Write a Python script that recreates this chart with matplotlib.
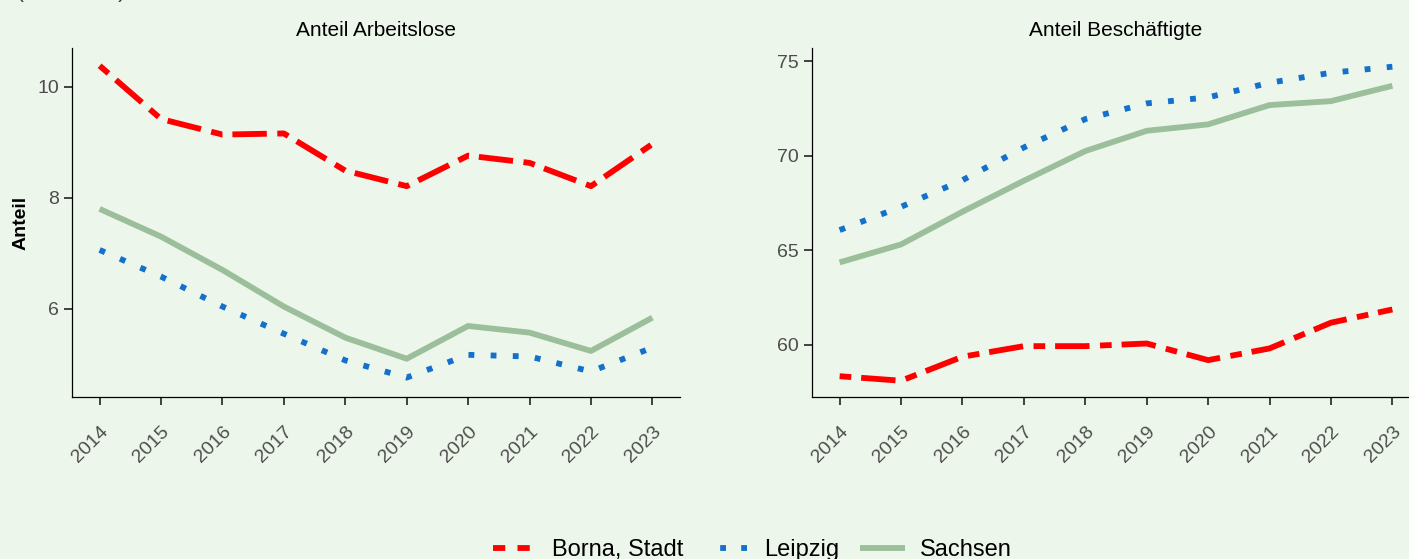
import numpy as np
import matplotlib.pyplot as plt
from matplotlib.lines import Line2D

years = [2014, 2015, 2016, 2017, 2018, 2019, 2020, 2021, 2022, 2023]

# Anteil Arbeitslose (%)
alo_borna = [10.38, 9.42, 9.14, 9.16, 8.49, 8.21, 8.76, 8.63, 8.21, 8.97]
alo_leipzig = [7.06, 6.58, 6.04, 5.55, 5.07, 4.76, 5.17, 5.14, 4.87, 5.30]
alo_sachsen = [7.80, 7.30, 6.70, 6.04, 5.48, 5.10, 5.69, 5.57, 5.24, 5.84]

# Anteil Beschäftigte (%)
besch_borna = [58.33, 58.09, 59.36, 59.92, 59.92, 60.06, 59.18, 59.80, 61.16, 61.86]
besch_leipzig = [66.06, 67.29, 68.70, 70.43, 71.93, 72.76, 73.08, 73.85, 74.38, 74.70]
besch_sachsen = [64.35, 65.30, 67.03, 68.67, 70.24, 71.31, 71.65, 72.67, 72.88, 73.69]

names = ["Borna, Stadt", "Leipzig", "Sachsen"]
colors = ["#FF0000", "#1370CC", "#9BBF9B"]
styles = [(0, (2.0, 1.7, 5.9, 1.8)), (0, (1.0, 2.8)), "solid"]
legend_styles = [(0, (2.1, 2.1)), (1.0, (1.0, 2.6)), "solid"]
bg = "#EDF6EA"

plt.rcParams["font.family"] = ["Liberation Sans", "DejaVu Sans"]

fig = plt.figure(figsize=(14.09, 5.59), dpi=100, facecolor=bg)
W, H = 1409, 559
ax1 = fig.add_axes([72 / W, 1 - 397 / H, (680 - 72) / W, (397 - 48) / H])
ax2 = fig.add_axes([812 / W, 1 - 397 / H, (1420 - 812) / W, (397 - 48) / H])

panels = [
    (ax1, [alo_borna, alo_leipzig, alo_sachsen], "Anteil Arbeitslose", (4.41, 10.70), [6, 8, 10]),
    (ax2, [besch_borna, besch_leipzig, besch_sachsen], "Anteil Beschäftigte", (57.23, 75.69), [60, 65, 70, 75]),
]

for ax, series, title, ylim, yticks in panels:
    ax.set_facecolor(bg)
    for vals, name, c, ls in zip(series, names, colors, styles):
        ax.plot(years, vals, color=c, linestyle=ls, linewidth=4.2,
                label=name, solid_capstyle="butt", dash_capstyle="butt")
    ax.set_xlim(2013.55, 2023.45)
    ax.set_ylim(*ylim)
    ax.set_xticks(years)
    ax.set_xticklabels([str(y) for y in years], rotation=45, ha="right",
                       rotation_mode="anchor")
    ax.set_yticks(yticks)
    ax.tick_params(axis="both", colors="#333333", length=6, width=1.3,
                   labelsize=14, labelcolor="#4D4D4D")
    ax.tick_params(axis="x", pad=13)
    for s in ["top", "right"]:
        ax.spines[s].set_visible(False)
    for s in ["left", "bottom"]:
        ax.spines[s].set_color("black")
        ax.spines[s].set_linewidth(0.9)
    ax.set_title(title, fontsize=15, pad=9)

ax1.set_ylabel("Anteil", fontsize=14, fontweight="bold")
ax1.yaxis.set_label_coords((30 - 72) / (680 - 72), 0.5)

fig.text(17 / W, 1 + 2 / H, "(in Prozent)", fontsize=15, va="baseline",
         ha="left", color="#333333")

handles = [Line2D([], [], color=c, linestyle=ls, linewidth=4.2,
                  solid_capstyle="butt", dash_capstyle="butt")
           for c, ls in zip(colors, legend_styles)]
fig.legend(handles=handles, labels=names, loc="lower center", ncol=3,
           frameon=False, fontsize=17, bbox_to_anchor=(0.534, -0.042),
           handlelength=1.9, columnspacing=0.9, handletextpad=0.6)

fig.savefig("out.png", dpi=100, facecolor=bg)
